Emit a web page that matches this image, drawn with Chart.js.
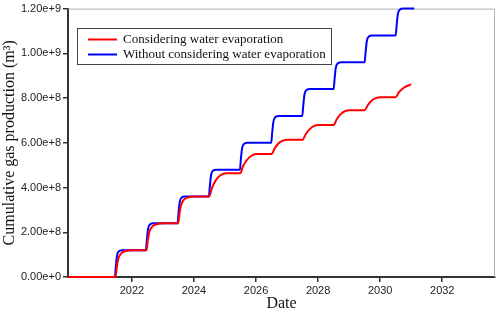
<!DOCTYPE html>
<html>
<head>
<meta charset="utf-8">
<script src="https://cdn.jsdelivr.net/npm/chart.js@4"></script>
<style>
  html, body { margin: 0; padding: 0; background: #fff; }
  #wrap { width: 498px; height: 314px; }
</style>
</head>
<body>
<div id="wrap"><canvas id="chart1" width="498" height="314"></canvas></div>
<script>
// values are in units of 1e8 m3, dates are decimal years
const UNIT = 1e8;

const blueDates = [2019.94, 2021.45, 2021.48, 2021.52, 2021.58, 2021.7,
                   2022.45, 2022.48, 2022.52, 2022.58, 2022.7,
                   2023.47, 2023.5, 2023.54, 2023.6, 2023.72,
                   2024.48, 2024.51, 2024.55, 2024.61, 2024.73,
                   2025.48, 2025.51, 2025.55, 2025.61, 2025.73,
                   2026.49, 2026.52, 2026.56, 2026.62, 2026.74,
                   2027.49, 2027.52, 2027.56, 2027.62, 2027.74,
                   2028.5, 2028.53, 2028.57, 2028.63, 2028.75,
                   2029.5, 2029.53, 2029.57, 2029.63, 2029.75,
                   2030.5, 2030.53, 2030.57, 2030.63, 2030.75, 2031.1];
const blueValues = [0, 0, 0.45, 0.95, 1.15, 1.2,
                    1.2, 1.65, 2.15, 2.35, 2.4,
                    2.4, 2.85, 3.35, 3.55, 3.6,
                    3.6, 4.05, 4.55, 4.75, 4.8,
                    4.8, 5.25, 5.75, 5.95, 6.0,
                    6.0, 6.45, 6.95, 7.15, 7.2,
                    7.2, 7.65, 8.15, 8.35, 8.4,
                    8.4, 8.85, 9.35, 9.55, 9.6,
                    9.6, 10.05, 10.55, 10.75, 10.8,
                    10.8, 11.25, 11.75, 11.95, 12.0, 12.0];

const redDates = [2019.94, 2021.47, 2021.51, 2021.56, 2021.65, 2021.8, 2022.05,
                  2022.47, 2022.51, 2022.56, 2022.65, 2022.8, 2023.05,
                  2023.49, 2023.53, 2023.58, 2023.67, 2023.82, 2024.05,
                  2024.49, 2024.58, 2024.7, 2024.85, 2025.05,
                  2025.49, 2025.58, 2025.7, 2025.85, 2026.0,
                  2026.5, 2026.6, 2026.72, 2026.86, 2027.02,
                  2027.5, 2027.6, 2027.72, 2027.86, 2028.02,
                  2028.5, 2028.6, 2028.72, 2028.86, 2029.02,
                  2029.5, 2029.6, 2029.72, 2029.86, 2030.02,
                  2030.5, 2030.6, 2030.75, 2030.9, 2031.0];
const redValues = [0, 0, 0.4, 0.8, 1.05, 1.16, 1.2,
                   1.2, 1.6, 2.0, 2.25, 2.36, 2.4,
                   2.4, 2.8, 3.2, 3.45, 3.56, 3.6,
                   3.6, 3.98, 4.32, 4.55, 4.64,
                   4.64, 4.95, 5.22, 5.42, 5.5,
                   5.5, 5.75, 5.97, 6.1, 6.14,
                   6.14, 6.38, 6.6, 6.75, 6.8,
                   6.8, 7.05, 7.27, 7.41, 7.46,
                   7.46, 7.68, 7.88, 8.0, 8.04,
                   8.04, 8.25, 8.45, 8.56, 8.61];

const xTicks = [2022, 2024, 2026, 2028, 2030, 2032];
const seriesNames = ['Considering water evaporation', 'Without considering water evaporation'];

function toPoints(dates, values) {
    return dates.map((d, i) => ({ x: d, y: values[i] * UNIT }));
}

// gray frame on top/right + boxed legend inside the plot
const framePlugin = {
    id: 'frame',
    beforeDatasetsDraw(chart) {
        const a = chart.chartArea, c = chart.ctx;
        c.save();
        c.strokeStyle = '#b0b0b0';
        c.lineWidth = 1;
        c.beginPath();
        c.moveTo(a.left, a.top + 0.5);
        c.lineTo(a.right - 0.5, a.top + 0.5);
        c.lineTo(a.right - 0.5, a.bottom);
        c.stroke();
        c.restore();
    },
    afterDraw(chart) {
        const c = chart.ctx;
        const bx = 77, by = 28, bw = 254, bh = 36;
        c.save();
        c.fillStyle = '#fff';
        c.fillRect(bx, by, bw, bh);
        c.strokeStyle = '#444';
        c.lineWidth = 1;
        c.strokeRect(bx + 0.5, by + 0.5, bw, bh);
        c.font = '13px "Liberation Serif", "Times New Roman", serif';
        c.textBaseline = 'middle';
        chart.data.datasets.forEach((ds, i) => {
            const y = 39.5 + i * 15;
            c.strokeStyle = ds.borderColor;
            c.lineWidth = 2;
            c.beginPath();
            c.moveTo(88, y);
            c.lineTo(117, y);
            c.stroke();
            c.fillStyle = '#111';
            c.fillText(ds.label, 123, y);
        });
        c.restore();
    }
};

document.addEventListener("DOMContentLoaded", function() {
    const ctx1 = document.getElementById('chart1').getContext('2d');
    new Chart(ctx1, {
        type: 'line',
        data: {
            datasets: [{
                label: seriesNames[0],
                data: toPoints(redDates, redValues),
                borderColor: '#ff0000',
                borderWidth: 2,
                pointRadius: 0,
                cubicInterpolationMode: 'monotone',
                clip: false
            }, {
                label: seriesNames[1],
                data: toPoints(blueDates, blueValues),
                borderColor: '#0000ff',
                borderWidth: 2,
                pointRadius: 0,
                cubicInterpolationMode: 'monotone',
                clip: false
            }]
        },
        options: {
            responsive: false,
            animation: false,
            layout: { padding: { top: 5, right: 3, left: 0, bottom: 0 } },
            plugins: { legend: { display: false }, tooltip: { enabled: false } },
            scales: {
                x: {
                    type: 'linear',
                    min: 2019.94,
                    max: 2033.7,
                    afterBuildTicks: s => { s.ticks = xTicks.map(v => ({ value: v })); },
                    afterFit: s => { s.height = 37; },
                    border: { color: '#333', width: 2 },
                    grid: { drawOnChartArea: false, drawTicks: true, tickLength: 5, color: '#333', lineWidth: 1.5 },
                    ticks: {
                        color: '#222',
                        padding: 2,
                        font: { family: '"Liberation Sans", Arial, sans-serif', size: 11 },
                        callback: v => String(v)
                    },
                    title: {
                        display: true,
                        text: 'Date',
                        color: '#111',
                        padding: { top: 0, bottom: 1 },
                        font: { family: '"Liberation Serif", "Times New Roman", serif', size: 16 }
                    }
                },
                y: {
                    min: 0,
                    max: 1.2e9,
                    afterFit: s => { s.width = 68; },
                    border: { color: '#333', width: 2 },
                    grid: { drawOnChartArea: false, drawTicks: true, tickLength: 5, color: '#333', lineWidth: 1.5 },
                    ticks: {
                        stepSize: 2e8,
                        color: '#222',
                        padding: 2,
                        font: { family: '"Liberation Sans", Arial, sans-serif', size: 11 },
                        callback: v => Number(v).toExponential(2)
                    },
                    title: {
                        display: true,
                        text: 'Cumulative gas production (m\u00B3)',
                        color: '#111',
                        padding: { top: 0, bottom: 2 },
                        font: { family: '"Liberation Serif", "Times New Roman", serif', size: 16 }
                    }
                }
            }
        },
        plugins: [framePlugin]
    });
});
</script>
</body>
</html>
